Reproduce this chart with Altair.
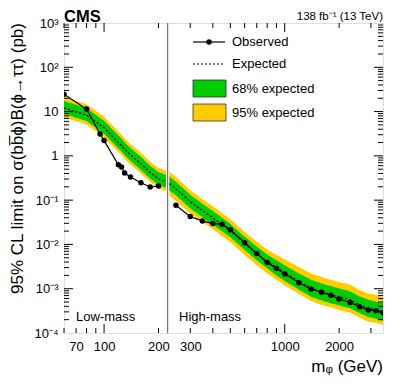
import altair as alt
import pandas as pd

# ---------------- data ----------------
low_mass = [60, 80, 95, 100, 120, 125, 130, 140, 160, 180, 200]
low_obs = [24.7, 11.4, 3.12, 2.21, 0.63, 0.557, 0.41, 0.332, 0.247, 0.198, 0.208]

high_mass = [250, 300, 350, 400, 450, 500, 600, 700, 800, 900, 1000, 1200, 1400,
             1600, 1800, 2000, 2300, 2600, 2900, 3200, 3500]
high_obs = [0.0764, 0.0425, 0.034, 0.0296, 0.0287, 0.0215, 0.0109, 0.0062, 0.00391,
            0.00288, 0.00215, 0.00136, 0.00097, 0.00083, 0.00071, 0.000587, 0.000489,
            0.000394, 0.000331, 0.000319, 0.000288]

low_band_mass = [60, 80, 95, 100, 120, 125, 130, 140, 160, 180, 200, 220]
low_exp = [12, 8.3, 5.0, 4.3, 2.0, 1.7, 1.4, 1.05, 0.66, 0.42, 0.30, 0.26]
low_g_lo = [8.8, 6.1, 3.7, 3.15, 1.47, 1.25, 1.03, 0.77, 0.48, 0.31, 0.22, 0.19]
low_g_hi = [17.3, 12.0, 7.2, 6.2, 2.9, 2.45, 2.0, 1.5, 0.95, 0.60, 0.43, 0.37]
low_y_lo = [7.3, 5.1, 3.05, 2.6, 1.22, 1.04, 0.85, 0.64, 0.40, 0.26, 0.183, 0.16]
low_y_hi = [21.2, 14.7, 8.9, 7.6, 3.55, 3.0, 2.5, 1.86, 1.17, 0.74, 0.53, 0.46]

high_band_mass = [230, 250, 300, 350, 400, 450, 500, 600, 700, 800, 900, 1000, 1200,
                  1400, 1600, 1800, 2000, 2300, 2600, 2900, 3200, 3500]
high_exp = [0.235, 0.18, 0.092, 0.058, 0.040, 0.028, 0.0205, 0.0106, 0.0063, 0.0041,
            0.0030, 0.0023, 0.00147, 0.00103, 0.00085, 0.00074, 0.00065, 0.00057,
            0.00043, 0.00036, 0.00033, 0.00030]
high_g_lo = [0.165, 0.127, 0.065, 0.041, 0.028, 0.0198, 0.0145, 0.0075, 0.0044, 0.0029,
             0.0020, 0.0015, 0.00095, 0.00066, 0.00054, 0.00047, 0.00042, 0.00036,
             0.00028, 0.00023, 0.00021, 0.00019]
high_g_hi = [0.34, 0.26, 0.132, 0.083, 0.057, 0.040, 0.029, 0.015, 0.0090, 0.0059,
             0.0044, 0.0034, 0.0022, 0.0016, 0.00132, 0.00115, 0.00101, 0.00088,
             0.00067, 0.00056, 0.00051, 0.00047]
high_y_lo = [0.125, 0.097, 0.050, 0.032, 0.022, 0.0154, 0.0113, 0.0058, 0.0034, 0.0022,
             0.0016, 0.0012, 0.00076, 0.00053, 0.00043, 0.00038, 0.00033, 0.00029,
             0.00022, 0.00018, 0.00017, 0.00015]
high_y_hi = [0.44, 0.335, 0.168, 0.106, 0.073, 0.051, 0.037, 0.0192, 0.0117, 0.0077,
             0.0058, 0.0046, 0.0031, 0.0022, 0.00184, 0.0016, 0.00141, 0.00124,
             0.00093, 0.00078, 0.00072, 0.00065]

separator_mass = [225]
x_label_values = [70, 100, 200, 300, 1000, 2000]
x_major_ticks = [100, 1000]
x_minor_ticks = [60, 70, 80, 90, 200, 300, 400, 500, 600, 700, 800, 900, 2000, 3000]
y_decades = [1e-4, 1e-3, 1e-2, 1e-1, 1, 10, 100, 1000]
y_minor_ticks = [k * d for d in y_decades[:-1] for k in range(2, 10)]

legend_labels = ["Observed", "Expected", "68% expected", "95% expected"]

# ---------------- tables ----------------
obs_df = pd.DataFrame({
    "m": low_mass + high_mass,
    "v": low_obs + high_obs,
    "region": ["low"] * len(low_mass) + ["high"] * len(high_mass),
})
band_df = pd.DataFrame({
    "m": low_band_mass + high_band_mass,
    "exp": low_exp + high_exp,
    "g_lo": low_g_lo + high_g_lo,
    "g_hi": low_g_hi + high_g_hi,
    "y_lo": low_y_lo + high_y_lo,
    "y_hi": low_y_hi + high_y_hi,
    "region": ["low"] * len(low_band_mass) + ["high"] * len(high_band_mass),
})

W, H = 319, 310
FONT = "Liberation Sans"
GREEN = "#00CC00"
YELLOW = "#FFCC00"

xs = alt.Scale(type="log", domain=[60, 3500], nice=False)
ys = alt.Scale(type="log", domain=[1e-4, 1e3], nice=False)

x_axis = alt.Axis(values=x_label_values, format="d", ticks=False, domain=False, grid=False,
                  labelFontSize=13, labelPadding=7, labelColor="black", title=None,
                  labelFont=FONT)
y_axis = alt.Axis(values=y_decades, ticks=False, domain=False, grid=False,
                  labelExpr="['10⁻⁴','10⁻³','10⁻²','10⁻¹','1','10','10²','10³'][round(log(datum.value)/LN10)+4]",
                  labelFontSize=13, labelPadding=6, labelColor="black", title=None,
                  labelFont=FONT)


def X(field):
    return alt.X(field, scale=xs, axis=x_axis)


def Y(field):
    return alt.Y(field, scale=ys, axis=y_axis)


yellow = alt.Chart(band_df).mark_area(color=YELLOW, opacity=1, clip=True).encode(
    x=X("m:Q"), y=Y("y_lo:Q"), y2="y_hi:Q", detail="region:N",
)
green = alt.Chart(band_df).mark_area(color=GREEN, opacity=1, clip=True).encode(
    x=X("m:Q"), y=Y("g_lo:Q"), y2="g_hi:Q", detail="region:N",
)
expected = alt.Chart(band_df).mark_line(color="black", strokeWidth=1.2, strokeDash=[2, 2],
                                        clip=True).encode(
    x=X("m:Q"), y=Y("exp:Q"), detail="region:N",
)
obs_line = alt.Chart(obs_df).mark_line(color="black", strokeWidth=1.2, clip=True).encode(
    x=X("m:Q"), y=Y("v:Q"), detail="region:N",
)
obs_pts = alt.Chart(obs_df).mark_circle(color="black", size=30, opacity=1, clip=True).encode(
    x=X("m:Q"), y=Y("v:Q"),
)
sep = alt.Chart(pd.DataFrame({"m": separator_mass})).mark_rule(color="#555555", strokeWidth=1).encode(
    x=X("m:Q"), y=alt.value(0), y2=alt.value(H),
)


# ---------------- ticks (inward, on all four sides) ----------------
def xticks(vals, length):
    d = pd.DataFrame({"m": vals})
    bottom = alt.Chart(d).mark_rule(color="black", strokeWidth=1).encode(
        x=X("m:Q"), y=alt.value(H), y2=alt.value(H - length))
    top = alt.Chart(d).mark_rule(color="black", strokeWidth=1).encode(
        x=X("m:Q"), y=alt.value(0), y2=alt.value(length))
    return [bottom, top]


def yticks(vals, length):
    d = pd.DataFrame({"v": vals})
    left = alt.Chart(d).mark_rule(color="black", strokeWidth=1).encode(
        y=Y("v:Q"), x=alt.value(0), x2=alt.value(length))
    right = alt.Chart(d).mark_rule(color="black", strokeWidth=1).encode(
        y=Y("v:Q"), x=alt.value(W), x2=alt.value(W - length))
    return [left, right]


ticks = (xticks(x_major_ticks, 9) + xticks(x_minor_ticks, 5)
         + yticks(y_decades[1:-1], 9) + yticks(y_minor_ticks, 5))

# ---------------- texts ----------------
one = pd.DataFrame({"a": [0]})


def txt(s, x, y, size=13, align="left", weight="normal", angle=0, baseline="middle"):
    kw = dict(text=s, fontSize=size, align=align, font=FONT, fontWeight=weight,
              baseline=baseline, color="black")
    if angle:
        kw["angle"] = angle
    return alt.Chart(one).mark_text(**kw).encode(x=alt.value(x), y=alt.value(y))


texts = [
    txt("CMS", 0, -1, size=16.5, weight="bold", baseline="alphabetic"),
    txt("138 fb⁻¹ (13 TeV)", W, -3, size=11.5, align="right", baseline="alphabetic"),
    txt("95% CL limit on σ(bb̅ϕ)B(ϕ→ττ) (pb)", -46, 0, size=17, align="right", angle=270),
    txt("mᵩ (GeV)", W, 344, size=17, align="right"),
    txt("Low-mass", 12, 294, size=13),
    txt("High-mass", 115, 294, size=13),
]

# ---------------- legend ----------------
LX0, LX1 = 129, 161
legend = [
    alt.Chart(one).mark_rule(color="black", strokeWidth=1.2).encode(
        x=alt.value(LX0), x2=alt.value(LX1), y=alt.value(19)),
    alt.Chart(one).mark_circle(color="black", size=30, opacity=1).encode(
        x=alt.value((LX0 + LX1) / 2), y=alt.value(19)),
    alt.Chart(one).mark_rule(color="black", strokeWidth=1.2, strokeDash=[2, 2]).encode(
        x=alt.value(LX0), x2=alt.value(LX1), y=alt.value(41)),
    alt.Chart(one).mark_rect(color=GREEN, stroke="#333333", strokeWidth=0.8).encode(
        x=alt.value(LX0), x2=alt.value(LX1 + 1), y=alt.value(57), y2=alt.value(74)),
    alt.Chart(one).mark_rect(color=YELLOW, stroke="#333333", strokeWidth=0.8).encode(
        x=alt.value(LX0), x2=alt.value(LX1 + 1), y=alt.value(81), y2=alt.value(98)),
]
for lab, yy in zip(legend_labels, [19, 41, 66, 90]):
    legend.append(txt(lab, 168, yy, size=13))

chart = alt.layer(yellow, green, expected, obs_line, obs_pts, sep, *ticks, *texts, *legend).properties(
    width=W, height=H,
    padding={"left": 56, "top": 15, "right": 8, "bottom": 50},
    autosize=alt.AutoSizeParams(type="none"),
).configure_view(stroke="black", strokeWidth=1).configure(background="white")

chart.save("out.html", embed_options={"renderer": "svg", "actions": False})
